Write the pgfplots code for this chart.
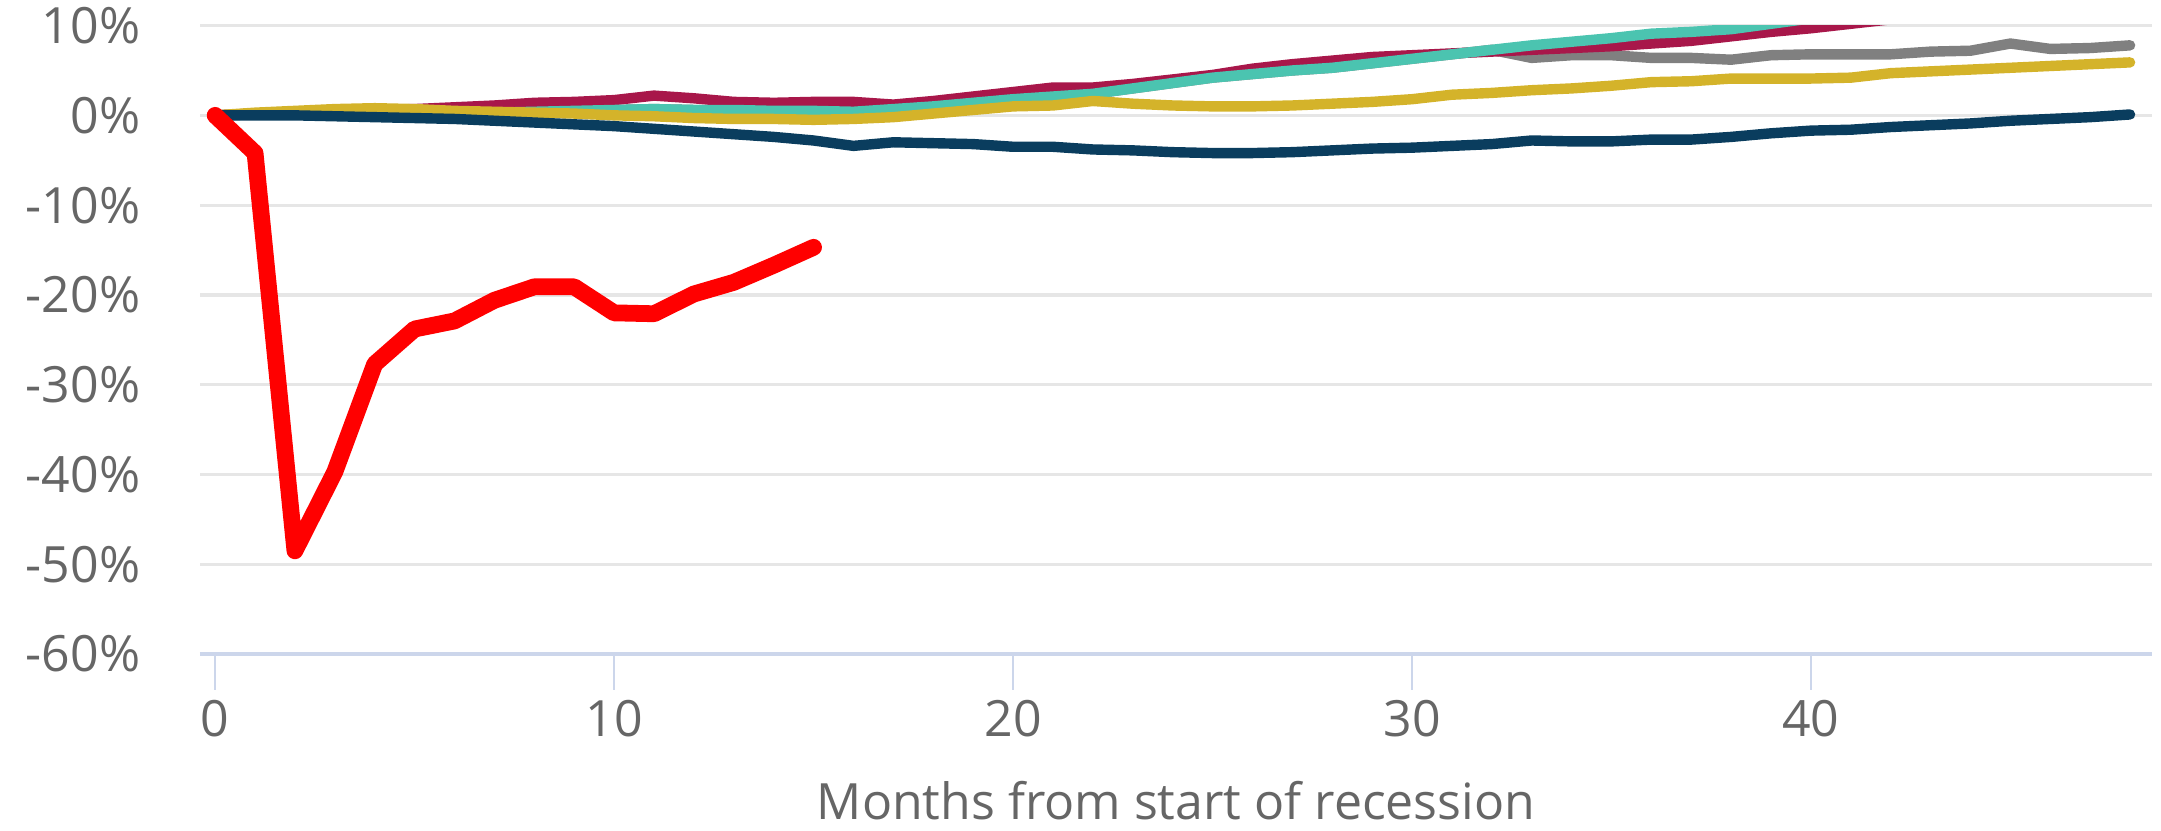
\documentclass[border=0pt]{standalone}
\usepackage{pgfplots}
\pgfplotsset{compat=1.18}
\usepackage{fontspec}
\setmainfont{Open Sans}
\definecolor{txt}{HTML}{666666}
\definecolor{grid}{HTML}{E6E6E6}
\definecolor{axl}{HTML}{CCD6EB}
\definecolor{cred}{HTML}{FF0000}
\definecolor{cnavy}{HTML}{0A3D5E}
\definecolor{cyel}{HTML}{D4B32A}
\definecolor{cmar}{HTML}{A8174A}
\definecolor{cteal}{HTML}{4BC4B0}
\definecolor{cgray}{HTML}{808080}
\begin{document}
\begin{tikzpicture}
\begin{axis}[
  scale only axis,
  width=488pt, height=157.1pt,
  xmin=-0.38, xmax=48.55,
  ymin=-60, ymax=10,
  axis x line*=bottom,
  axis y line*=left,
  y axis line style={draw=none},
  x axis line style={draw=axl, line width=0.8pt, -},
  xtick={0,10,20,30,40},
  ytick={-60,-50,-40,-30,-20,-10,0,10},
  ymajorgrids=true,
  grid style={draw=grid, line width=0.8pt},
  major x tick style={draw=axl, line width=0.6pt},
  xtick align=outside,
  ytick align=inside,
  major tick length=9pt,
  ytick style={draw=none},
  tick label style={font=\fontsize{12.5}{14}\selectfont, text=txt},
  /pgf/number format/assume math mode=true,
  xticklabel style={yshift=1pt},
  yticklabel style={anchor=east, xshift=-11.4pt},
  yticklabel={\pgfmathprintnumber{\tick}\%},
  xlabel={Months from start of recession},
  xlabel style={font=\fontsize{12.5}{14}\selectfont, text=txt, yshift=-4.2pt},
  every axis plot/.append style={line cap=round, line join=round, no markers},
  clip=true,
]
% gray
\addplot[cgray, line width=2.6pt] coordinates {
(0,0)(1,0.1)(2,0.2)(3,0.3)(4,0.3)(5,0.3)(6,0.3)(7,0.3)(8,0.4)(9,0.5)(10,0.6)(11,0.7)(12,0.6)(13,0.6)(14,0.5)(15,0.5)(16,0.4)(17,0.7)(18,1.0)(19,1.4)(20,1.8)(21,2.1)(22,2.4)(23,3.0)(24,3.6)(25,4.2)(26,4.6)(27,5.0)(28,5.3)(29,5.8)(30,6.3)(31,6.8)(32,7.3)(33,6.4)(34,6.7)(35,6.7)(36,6.4)(37,6.4)(38,6.2)(39,6.7)(40,6.8)(41,6.8)(42,6.8)(43,7.1)(44,7.2)(45,8.0)(46,7.4)(47,7.5)(48,7.8)};
% maroon
\addplot[cmar, line width=2.6pt] coordinates {
(0,0)(1,0.2)(2,0.4)(3,0.5)(4,0.6)(5,0.7)(6,0.9)(7,1.1)(8,1.4)(9,1.5)(10,1.7)(11,2.2)(12,1.9)(13,1.5)(14,1.4)(15,1.5)(16,1.5)(17,1.2)(18,1.6)(19,2.1)(20,2.6)(21,3.1)(22,3.1)(23,3.5)(24,4.0)(25,4.5)(26,5.2)(27,5.7)(28,6.1)(29,6.5)(30,6.7)(31,6.9)(32,7.1)(33,7.3)(34,7.5)(35,7.7)(36,8.0)(37,8.3)(38,8.8)(39,9.3)(40,9.7)(41,10.2)(42,10.7)};
% teal
\addplot[cteal, line width=2.6pt] coordinates {
(0,0)(1,0.1)(2,0.2)(3,0.3)(4,0.3)(5,0.3)(6,0.3)(7,0.3)(8,0.4)(9,0.5)(10,0.6)(11,0.7)(12,0.6)(13,0.6)(14,0.5)(15,0.5)(16,0.4)(17,0.7)(18,1.0)(19,1.4)(20,1.8)(21,2.1)(22,2.4)(23,3.0)(24,3.6)(25,4.2)(26,4.6)(27,5.0)(28,5.3)(29,5.8)(30,6.3)(31,6.8)(32,7.3)(33,7.8)(34,8.2)(35,8.6)(36,9.1)(37,9.3)(38,9.6)(39,10.2)(40,10.8)};
% yellow
\addplot[cyel, line width=2.6pt] coordinates {
(0,0)(1,0.3)(2,0.5)(3,0.7)(4,0.8)(5,0.7)(6,0.5)(7,0.4)(8,0.3)(9,0.2)(10,0.0)(11,-0.1)(12,-0.3)(13,-0.4)(14,-0.4)(15,-0.5)(16,-0.4)(17,-0.2)(18,0.2)(19,0.6)(20,1.0)(21,1.1)(22,1.6)(23,1.3)(24,1.1)(25,1.0)(26,1.0)(27,1.1)(28,1.3)(29,1.5)(30,1.8)(31,2.3)(32,2.5)(33,2.8)(34,3.0)(35,3.3)(36,3.7)(37,3.8)(38,4.1)(39,4.1)(40,4.1)(41,4.2)(42,4.7)(43,4.9)(44,5.1)(45,5.3)(46,5.5)(47,5.7)(48,5.9)};
% navy
\addplot[cnavy, line width=2.6pt] coordinates {
(0,0)(1,0)(2,0)(3,-0.1)(4,-0.2)(5,-0.3)(6,-0.4)(7,-0.6)(8,-0.8)(9,-1.0)(10,-1.2)(11,-1.5)(12,-1.8)(13,-2.1)(14,-2.4)(15,-2.8)(16,-3.4)(17,-3.0)(18,-3.1)(19,-3.2)(20,-3.5)(21,-3.5)(22,-3.8)(23,-3.9)(24,-4.1)(25,-4.2)(26,-4.2)(27,-4.1)(28,-3.9)(29,-3.7)(30,-3.6)(31,-3.4)(32,-3.2)(33,-2.8)(34,-2.9)(35,-2.9)(36,-2.7)(37,-2.7)(38,-2.4)(39,-2.0)(40,-1.7)(41,-1.6)(42,-1.3)(43,-1.1)(44,-0.9)(45,-0.6)(46,-0.4)(47,-0.2)(48,0.1)};
% red
\addplot[cred, line width=4.2pt] coordinates {
(0,0)(1,-4.2)(2,-48.5)(3,-39.7)(4,-27.7)(5,-23.8)(6,-22.9)(7,-20.6)(8,-19.1)(9,-19.1)(10,-22.0)(11,-22.1)(12,-19.9)(13,-18.6)(14,-16.7)(15,-14.7)};
\end{axis}
\pgfresetboundingbox
\useasboundingbox ([xshift=-50pt,yshift=-44.25pt]current axis.south west) rectangle ([xshift=2.25pt,yshift=6.4pt]current axis.north east);
\end{tikzpicture}
\end{document}
